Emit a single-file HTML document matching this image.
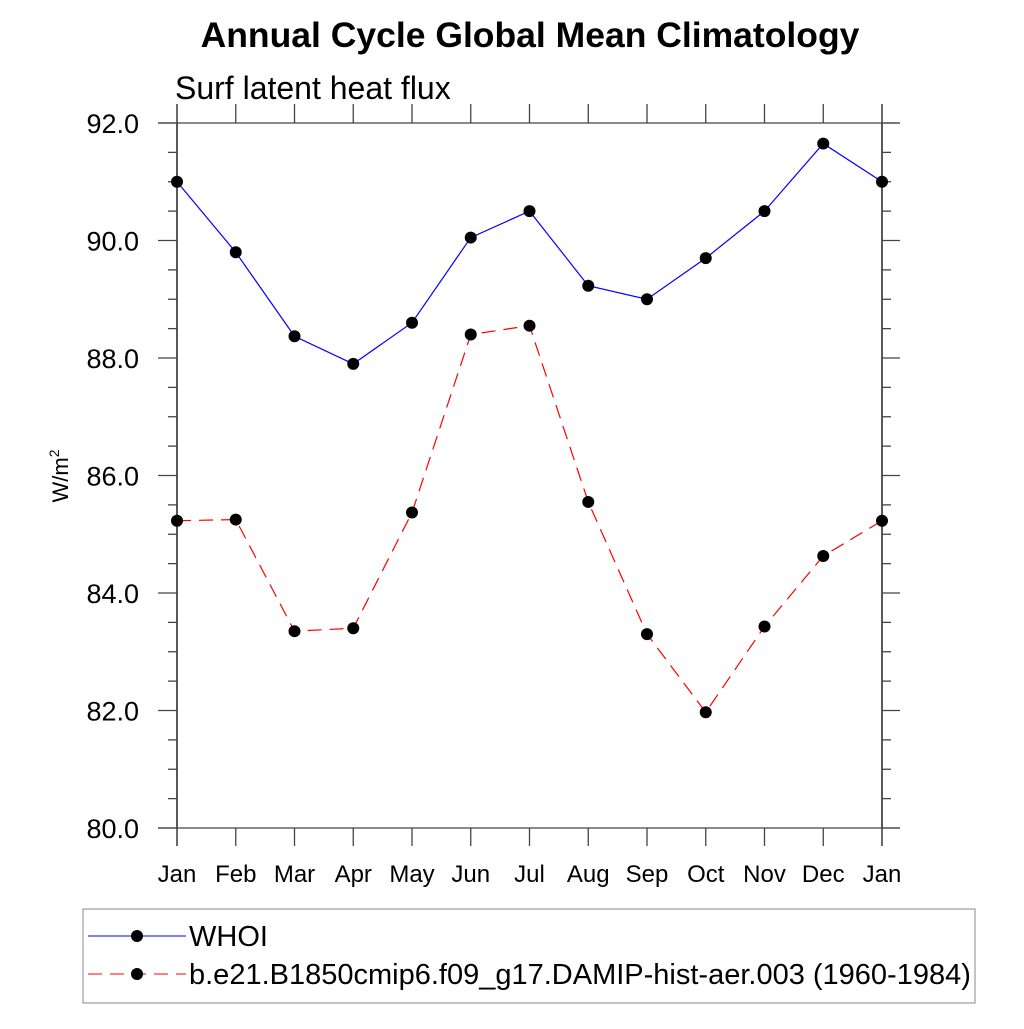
<!DOCTYPE html><html><head><style>body{margin:0;background:#fff}svg text{font-family:"Liberation Sans",sans-serif}</style></head><body>
<svg id="c" width="1024" height="1024" xmlns="http://www.w3.org/2000/svg">
<text x="530" y="47" text-anchor="middle" font-size="35.5" font-weight="bold">Annual Cycle Global Mean Climatology</text>
<text x="175" y="99" font-size="32">Surf latent heat flux</text>
<text transform="translate(68,476) rotate(-90)" text-anchor="middle" font-size="22">W/m<tspan dy="-9" font-size="14">2</tspan></text>
<g id="axes"></g><g id="series"></g>
<g>
<rect x="83" y="909" width="892" height="94" fill="none" stroke="#888"/>
<g><line x1="88" y1="936" x2="186" y2="936" stroke="blue"/><circle cx="137" cy="936" r="6"/><text x="189" y="946" font-size="29">WHOI</text></g>
<g><line x1="88" y1="974" x2="186" y2="974" stroke="red" stroke-dasharray="14,8"/><circle cx="137" cy="974" r="6"/><text x="189" y="984" font-size="29">b.e21.B1850cmip6.f09_g17.DAMIP-hist-aer.003 (1960-1984)</text></g>
</g>
</svg>
<script>
const months=["Jan","Feb","Mar","Apr","May","Jun","Jul","Aug","Sep","Oct","Nov","Dec","Jan"];
const whoi=[91.0,89.8,88.37,87.9,88.6,90.05,90.5,89.23,89.0,89.7,90.5,91.65,91.0];
const model=[85.23,85.25,83.35,83.4,85.37,88.4,88.55,85.55,83.3,81.97,83.43,84.63,85.23];
const yTicks=["80.0","82.0","84.0","86.0","88.0","90.0","92.0"];
const NS="http://www.w3.org/2000/svg";
const X=i=>177+i*(882-177)/12, Y=v=>828-(v-80)*(828-123)/12;
function mk(t,a,p){const e=document.createElementNS(NS,t);for(const k in a)e.setAttribute(k,a[k]);p.appendChild(e);return e;}
const ax=document.getElementById('axes'),se=document.getElementById('series');
const L=(x1,y1,x2,y2,c)=>mk('line',{x1,y1,x2,y2,stroke:c||'#000','stroke-width':1.3},ax);
L(177,104,177,846);L(882,104,882,846);L(158,123,900,123,'#444');L(158,828,900,828,'#444');
months.forEach((m,i)=>{const x=X(i);L(x,104,x,123,'#444');L(x,828,x,846,'#444');
const t=mk('text',{x,y:882,'text-anchor':'middle','font-size':24},ax);t.textContent=m;

});
for(let v=80;v<=92.001;v+=0.5){const y=Y(v),maj=Math.abs(v%2)<1e-6;L(maj?158:168,y,177,y,'#444');L(882,y,maj?900:891,y,'#444');}
yTicks.forEach(s=>{const t=mk('text',{x:139,y:Y(+s)+10,'text-anchor':'end','font-size':27},ax);t.textContent=s;

});
function series(d,c,dash,name){const p=mk('polyline',{points:d.map((v,i)=>X(i)+','+Y(v)).join(' '),fill:'none',stroke:c,'stroke-width':1.2},se);
if(dash)p.setAttribute('stroke-dasharray',dash);


d.forEach((v,i)=>{const m=mk('circle',{cx:X(i),cy:Y(v),r:6},se);

});}
series(whoi,'blue',null,'whoi');series(model,'red','14,8','model');
</script></body></html>
